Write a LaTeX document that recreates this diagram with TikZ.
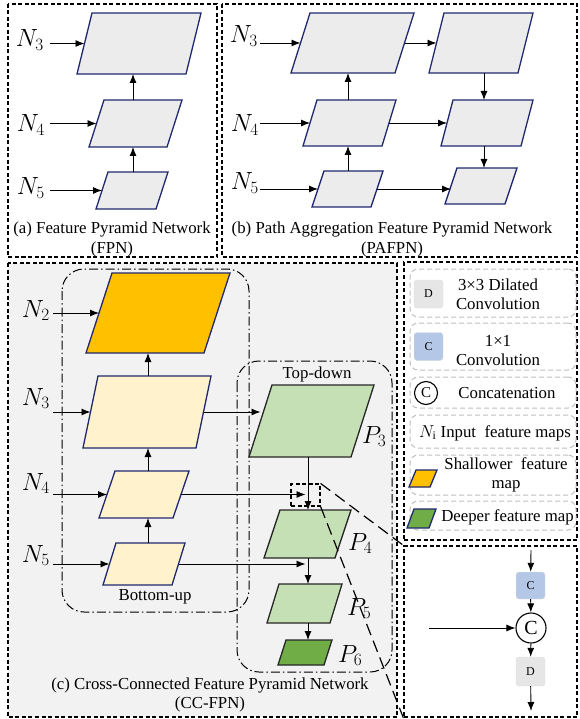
\documentclass[tikz,border=0pt]{standalone}
\usepackage{fontspec}
\setmainfont{Liberation Serif}
\usetikzlibrary{positioning, arrows.meta, shapes.geometric}

\definecolor{navy}{RGB}{32,40,110}
\definecolor{mapgray}{RGB}{236,236,236}
\definecolor{panelgray}{RGB}{242,242,242}
\definecolor{shallow}{RGB}{255,192,0}
\definecolor{paleyellow}{RGB}{255,242,204}
\definecolor{palegreen}{RGB}{197,224,180}
\definecolor{deepgreen}{RGB}{112,173,71}
\definecolor{convblue}{RGB}{180,199,231}
\definecolor{dilgray}{RGB}{231,230,230}
\definecolor{boxgray}{RGB}{191,191,191}

\newcommand{\capsize}{\fontsize{16.8}{19.5}\selectfont}
\newcommand{\lblsize}{\fontsize{24}{26}\selectfont}
\newcommand{\opsize}{\fontsize{12}{14}\selectfont}

% parallelogram map: [style]{name}{centre}{full width}{height}{slant}
% the node itself spans the mid-lines, so .west/.east sit on the slanted sides
\newcommand{\featmap}[6][]{%
  \node[inner sep=0pt, outer sep=0pt, minimum width=#4-#6, minimum height=#5] (#2) at (#3) {};
  \draw[mapline, #1] ([xshift=-#6/2]#2.south west) -- ([xshift=#6/2]#2.north west)
    -- ([xshift=#6/2]#2.north east) -- ([xshift=-#6/2]#2.south east) -- cycle;
}

\tikzset{
  mapline/.style={draw=navy, line width=1.3pt, fill=mapgray, line join=miter},
  outmap/.style={draw=black!85, fill=palegreen},
  framebox/.style={draw, line width=1.4pt, dash pattern=on 4pt off 2.5pt},
  stagebox/.style={draw, line width=1pt, rounded corners=22pt,
    dash pattern=on 9pt off 3pt on 1.5pt off 3pt},
  legbox/.style={draw=boxgray, line width=1pt, rounded corners=8pt,
    dash pattern=on 5pt off 3pt, minimum width=166},
  zoomline/.style={line width=1.2pt, dash pattern=on 12pt off 6pt},
  lbl/.style={font=\lblsize, inner sep=0pt},
  captext/.style={font=\capsize, align=center, inner sep=0pt},
  opbox/.style={draw=boxgray!50, rounded corners=3pt, minimum width=29,
    minimum height=28, inner sep=0pt, font=\opsize},
  catnode/.style={circle, draw, line width=1.1pt, inner sep=0pt},
  wire/.style={->, line width=0.9pt},
}

\begin{document}
\begin{tikzpicture}[x=1pt, y=-1pt, >={Latex[length=9pt, width=7pt]}]
    \useasboundingbox (0,0) rectangle (579,719);

    % (a) plain FPN
    \draw[framebox] (8,4) rectangle (217,257);
    \featmap{a3}{139,43.5}{124}{61}{15}
    \featmap{a4}{135.5,123.5}{93}{47}{15}
    \featmap{a5}{132,190.5}{72}{37}{12}
    \node[lbl, anchor=base east] (aN3) at (44,47) {$N_3$};
    \node[lbl, anchor=base east] (aN4) at (45,132) {$N_4$};
    \node[lbl, anchor=base east] (aN5) at (45,195) {$N_5$};
    \coordinate (ain) at (50,0);
    \coordinate (aup) at (133,0);
    \draw[wire] (ain |- a3.west) -- (a3.west);
    \draw[wire] (ain |- a4.west) -- (a4.west);
    \draw[wire] (ain |- a5.west) -- (a5.west);
    \draw[wire] (aup |- a5.north) -- (aup |- a4.south);
    \draw[wire] (aup |- a4.north) -- (aup |- a3.south);
    \node[captext] (acap) at (112,239.5) {(a) Feature Pyramid Network\\(FPN)};

    % (b) PAFPN
    \draw[framebox] (222,4) rectangle (577,257);
    \featmap{b31}{352.5,43}{123}{60}{19}
    \featmap{b41}{349.5,123}{93}{46}{14}
    \featmap{b51}{347.5,189}{71}{36}{12}
    \featmap{b32}{481,43}{104}{60}{15}
    \featmap{b42}{487,123}{92}{46}{12}
    \featmap{b52}{481,186}{72}{36}{12}
    \node[lbl, anchor=base east] (bN3) at (258,43) {$N_3$};
    \node[lbl, anchor=base east] (bN4) at (259,132) {$N_4$};
    \node[lbl, anchor=base east] (bN5) at (259,190) {$N_5$};
    \coordinate (bin) at (260,0);
    \coordinate (bup) at (348,0);
    \coordinate (bdown) at (484,0);
    \draw[wire] (bin |- b31.west) -- (b31.west);
    \draw[wire] (bin |- b41.west) -- (b41.west);
    \draw[wire] (bin |- b51.west) -- (b51.west);
    \draw[wire] (bup |- b51.north) -- (bup |- b41.south);
    \draw[wire] (bup |- b41.north) -- (bup |- b31.south);
    \draw[wire] (b31.east) -- (b32.west);
    \draw[wire] (b41.east) -- (b42.west);
    \draw[wire] (b51.east) -- (b51.east -| b52.west);
    \draw[wire] (bdown |- b32.south) -- (bdown |- b42.north);
    \draw[wire] (bdown |- b42.south) -- (bdown |- b52.north);
    \node[captext] (bcap) at (392,239.5) {(b) Path Aggregation Feature Pyramid Network\\(PAFPN)};

    % (c) CC-FPN
    \draw[framebox, fill=panelgray] (8,263) rectangle (397,717);
    \draw[stagebox] (62,269) rectangle (249,612);
    \draw[stagebox] (237,361) rectangle (392,672);
    \node[font=\capsize] (bulbl) at (155,597) {Bottom-up};
    \node[font=\capsize] (tdlbl) at (317,374) {Top-down};

    \featmap[fill=shallow]{c2}{158,313}{144}{80}{26}
    \featmap[fill=paleyellow]{c3}{147,412}{128}{72}{15}
    \featmap[fill=paleyellow]{c4}{144,494.5}{90}{47}{16}
    \featmap[fill=paleyellow]{c5}{144,564}{82}{42}{13}
    \node[lbl, anchor=base east] (cN2) at (50,317) {$N_2$};
    \node[lbl, anchor=base east] (cN3) at (50,405) {$N_3$};
    \node[lbl, anchor=base east] (cN4) at (50,490) {$N_4$};
    \node[lbl, anchor=base east] (cN5) at (50,562) {$N_5$};

    \featmap[outmap]{p3}{311.5,421}{125}{72}{23}
    \featmap[outmap]{p4}{307.5,534}{87}{48}{16}
    \featmap[outmap]{p5}{304.5,603.5}{75}{39}{12}
    \featmap[outmap, fill=deepgreen]{p6}{305,652.5}{54}{25}{8}
    \node[lbl, anchor=base west] (cP3) at (362,443) {$P_3$};
    \node[lbl, anchor=base west] (cP4) at (348,550) {$P_4$};
    \node[lbl, anchor=base west] (cP5) at (347,615) {$P_5$};
    \node[lbl, anchor=base west] (cP6) at (338,662) {$P_6$};

    \node[framebox, line width=1.2pt, minimum width=29, minimum height=22] (srcbox) at (305.5,495) {};

    \coordinate (cin) at (53,0);
    \coordinate (cup) at (148,0);
    \coordinate (cdown) at (308,0);
    \draw[wire] (cin |- c2.west) -- (c2.west);
    \draw[wire] (cin |- c3.west) -- (c3.west);
    \draw[wire] (cin |- c4.west) -- (c4.west);
    \draw[wire] (cin |- c5.west) -- (c5.west);
    \draw[wire] (cup |- c5.north) -- (cup |- c4.south);
    \draw[wire] (cup |- c4.north) -- (cup |- c3.south);
    \draw[wire] (cup |- c3.north) -- (cup |- c2.south);
    \draw[wire] (c3.east) -- (c3.east -| p3.west);
    \draw[wire] (c4.east) -- (c4.east -| srcbox);
    \draw[wire] (c5.east) -- (c5.east -| srcbox);
    \draw[wire] (cdown |- p3.south) -- (cdown |- p4.north);
    \draw[wire] (cdown |- p4.south) -- (cdown |- p5.north);
    \draw[wire] (cdown |- p5.south) -- (cdown |- p6.north);
    \node[captext] (ccap) at (210,695) {(c) Cross-Connected Feature Pyramid Network\\(CC-FPN)};

    % legend
    \node[framebox, minimum width=173, minimum height=278] (legend) at (490.5,401) {};
    \node[legbox, minimum height=48] (leg1) at (493,293) {};
    \node[legbox, minimum height=47] (leg2) at (493,346.5) {};
    \node[legbox, minimum height=31] (leg3) at (493,392.5) {};
    \node[legbox, minimum height=33] (leg4) at (493,431.5) {};
    \node[legbox, minimum height=40] (leg5) at (493,475) {};
    \node[legbox, minimum height=29] (leg6) at (493,515.5) {};

    \node[opbox, fill=dilgray] (ldil) at (428.5,294) {D};
    \node[captext] (ldiltxt) at (498,294.5) {3×3 Dilated\\Convolution};
    \node[opbox, fill=convblue] (lconv) at (428.5,346.5) {C};
    \node[captext] (lconvtxt) at (498,350.5) {1×1\\Convolution};
    \node[catnode, minimum size=23, font=\fontsize{15}{17}\selectfont] (lcat) at (426,393) {C};
    \node[captext] (lcattxt) at (507,393) {Concatenation};
    \node[captext] (linptxt) at (495,433) {$N_\mathrm{i}$ Input~ feature maps};
    \featmap[fill=shallow]{lshallow}{423,478.5}{28}{17}{7}
    \node[captext] (lshtxt) at (506,475) {Shallower~ feature\\map};
    \featmap[fill=deepgreen]{ldeep}{421.5,518.5}{29}{19}{7}
    \node[captext] (ldptxt) at (507.5,517) {Deeper feature map};

    % zoomed concat block
    \node[framebox, minimum width=173, minimum height=171] (detail) at (490.5,631.5) {};
    \draw[zoomline] (srcbox.north east) -- (detail.north west);
    \draw[zoomline] (srcbox.south east) -- (detail.south west);
    \node[opbox, minimum height=27, fill=convblue] (dconv) at (530.5,585.5) {C};
    \node[catnode, minimum size=30, font=\fontsize{20}{22}\selectfont] (dcat) at (531,628) {C};
    \node[opbox, minimum height=29, fill=dilgray] (ddil) at (530.5,671.5) {D};
    \coordinate (dtop) at (531,550);
    \coordinate (dleft) at (429,628);
    \coordinate (dbot) at (531,711);
    \draw[wire] (dtop) -- (dconv);
    \draw[wire] (dconv) -- (dcat);
    \draw[wire] (dleft) -- (dcat);
    \draw[wire] (dcat) -- (ddil);
    \draw[wire] (ddil) -- (dbot);
\end{tikzpicture}
\end{document}
